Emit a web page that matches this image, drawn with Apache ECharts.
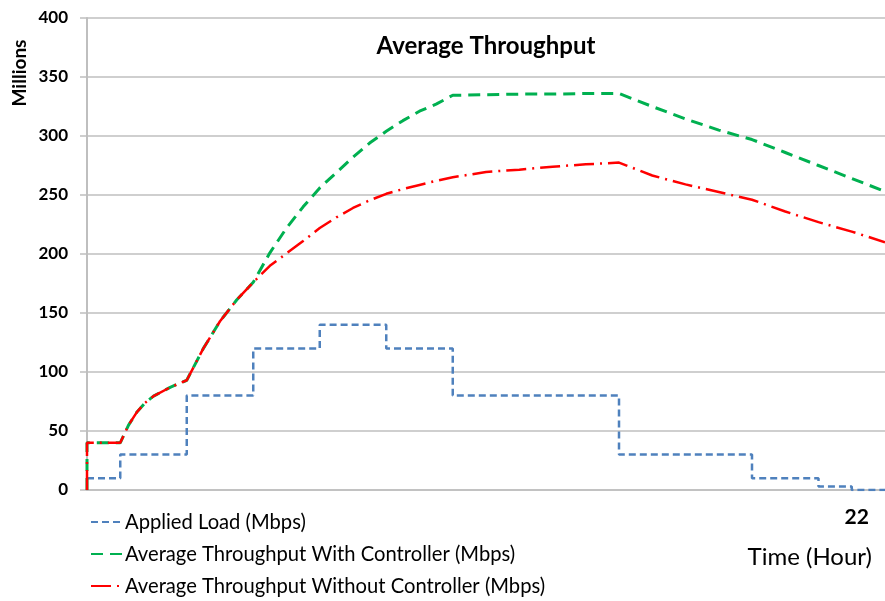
<!DOCTYPE html>
<html>
<head>
<meta charset="utf-8">
<script src="https://cdn.jsdelivr.net/npm/echarts@6/dist/echarts.min.js"></script>
<style>
  html, body { margin: 0; padding: 0; background: #fff; }
  #chart { width: 885px; height: 601px; }
</style>
</head>
<body>
<div id="chart"></div>
<script>
// Time positions (hours from start of the run) and the loads applied at each step
const loadTimes  = [0, 1, 3, 5, 7, 9, 11, 16, 20, 22, 23, 24];
const loadValues = [10, 30, 80, 120, 140, 120, 80, 30, 10, 3, 0, 0];

// Sample times for the measured throughput curves
const tpTimes = [0, 0, 1, 1.25, 1.5, 1.75, 2, 2.5, 3, 3.5, 4, 4.5, 5, 5.5, 6, 6.5, 7, 7.5, 8, 8.5, 9, 9.5, 10, 10.5, 11,
                 12, 13, 14, 15, 16, 17, 18, 19, 20, 21, 22, 23, 24];
const withController = [0, 40, 40, 55, 66, 74, 79.5, 87, 93, 120, 143, 161, 176, 201, 222, 240, 256, 269, 282, 294, 304, 313, 321, 327, 334.5,
                        335, 335.5, 335.5, 336, 336, 325, 314.5, 305, 297, 286, 275, 264, 253];
const withoutController = [0, 40, 40, 55, 66, 74, 79.5, 87, 93, 120, 143, 161, 176, 190, 200.5, 211, 222, 231, 239, 245.5, 251, 255, 258.5, 262, 265,
                           269.5, 271.5, 274, 276, 277.5, 266.5, 259, 252.5, 246, 236, 227, 219, 210];

// Axis ticks and labels
const yTicks = { min: 0, max: 400, step: 50 };
const xLabelPos = [23.15];
const xLabelText = ['22'];

const seriesNames = [
  'Applied Load (Mbps)',
  'Average Throughput With Controller (Mbps)',
  'Average Throughput Without Controller (Mbps)'
];

const zip = (xs, ys) => xs.map((x, i) => [x, ys[i]]);

const FONT = 'Lato, "Open Sans", sans-serif';
const chart = echarts.init(document.getElementById('chart'), null, { renderer: 'canvas' });

chart.setOption({
  animation: false,
  backgroundColor: '#ffffff',
  textStyle: { fontFamily: FONT, color: '#000' },
  title: {
    text: 'Average Throughput',
    left: 481,
    top: 29,
    textAlign: 'center',
    textStyle: { fontFamily: FONT, fontSize: 24, fontWeight: 'bold', color: '#000' }
  },
  grid: { left: 87, right: 0, top: 18, bottom: 111, containLabel: false },
  xAxis: {
    type: 'value',
    min: 0,
    max: 24,
    axisLine: { show: true, lineStyle: { color: '#bfbfbf', width: 1.5 } },
    axisTick: { show: false },
    splitLine: { show: false },
    axisLabel: {
      customValues: xLabelPos,
      formatter: (v) => {
        const i = xLabelPos.findIndex((p) => Math.abs(p - v) < 1e-6);
        return i >= 0 ? xLabelText[i] : '';
      },
      margin: 17,
      fontFamily: FONT,
      fontSize: 21,
      fontWeight: 'bold',
      color: '#000'
    }
  },
  yAxis: {
    type: 'value',
    min: yTicks.min,
    max: yTicks.max,
    interval: yTicks.step,
    axisLine: { show: true, lineStyle: { color: '#bfbfbf', width: 2 } },
    axisTick: { show: true, length: 7, lineStyle: { color: '#bfbfbf', width: 1.5 } },
    splitLine: { show: true, lineStyle: { color: '#bfbfbf', width: 1.5 } },
    axisLabel: {
      margin: 19,
      fontFamily: FONT,
      fontSize: 17,
      fontWeight: 'bold',
      color: '#000'
    }
  },
  legend: {
    orient: 'vertical',
    left: 90,
    top: 512,
    height: 110,
    padding: 0,
    itemWidth: 32,
    itemHeight: 10,
    itemGap: 12,
    itemStyle: { opacity: 0 },
    textStyle: { fontFamily: FONT, fontSize: 20.2, color: '#000', padding: [0, 0, 0, -3] },
    data: seriesNames
  },
  graphic: [
    {
      type: 'text',
      x: 20,
      y: 73,
      rotation: Math.PI / 2,
      style: {
        text: 'Millions',
        fill: '#000',
        fontFamily: FONT,
        fontSize: 19,
        fontWeight: 'bold',
        align: 'center',
        verticalAlign: 'middle'
      }
    },
    {
      type: 'text',
      x: 872,
      y: 557,
      style: {
        text: 'Time (Hour)',
        fill: '#000',
        fontFamily: FONT,
        fontSize: 24,
        align: 'right',
        verticalAlign: 'middle'
      }
    }
  ],
  series: [
    {
      name: seriesNames[0],
      type: 'line',
      step: 'end',
      showSymbol: false,
      symbol: 'none',
      data: zip(loadTimes, loadValues),
      lineStyle: { color: '#4f81bd', width: 2.5, type: [7, 4] },
      itemStyle: { color: '#4f81bd' }
    },
    {
      name: seriesNames[1],
      type: 'line',
      showSymbol: false,
      symbol: 'none',
      data: zip(tpTimes, withController),
      lineStyle: { color: '#00b050', width: 3, type: [12, 7] },
      itemStyle: { color: '#00b050' }
    },
    {
      name: seriesNames[2],
      type: 'line',
      showSymbol: false,
      symbol: 'none',
      data: zip(tpTimes, withoutController),
      lineStyle: { color: '#ff0000', width: 2.5, type: [20, 6, 2, 6] },
      itemStyle: { color: '#ff0000' }
    }
  ]
});
</script>
</body>
</html>
